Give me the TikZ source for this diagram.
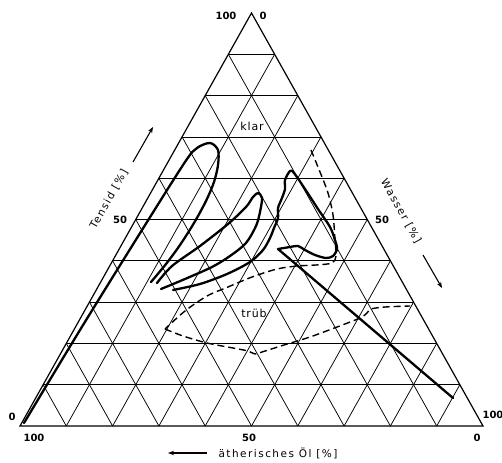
\documentclass[tikz,border=0pt]{standalone}
\usepackage{fontspec}
\setmainfont{DejaVu Sans}
\usetikzlibrary{calc,arrows.meta}
\begin{document}
\begin{tikzpicture}[x=1pt,y=-1pt,
  gridline/.style={line width=0.75pt,black},
  frame/.style={line width=1.2pt,black,line join=miter},
  boldcurve/.style={line width=2.3pt,black,line cap=round,line join=round},
  dashcurve/.style={line width=1.4pt,black,dash pattern=on 7pt off 4pt},
  num/.style={font=\fontsize{10}{12}\selectfont\bfseries,inner sep=0pt},
  lab/.style={font=\fontsize{10.5}{12}\selectfont\addfontfeature{LetterSpace=14},inner sep=0pt},
  word/.style={font=\fontsize{11}{13}\selectfont\addfontfeature{LetterSpace=8},inner sep=0pt},
  arr/.style={line width=1.1pt,-{Stealth[length=6pt,width=4.5pt]}}]
\useasboundingbox (0,0) rectangle (502,462);
\fill[white] (0,0) rectangle (502,462);
\coordinate (L) at (20,426);
\coordinate (R) at (483,426);
\coordinate (T) at (251.5,13);
% grid
\foreach \k in {1,...,9} {
  \draw[gridline] ($(L)!\k/10!(T)$) -- ($(R)!\k/10!(T)$);
  \draw[gridline] ($(L)!\k/10!(R)$) -- ($(T)!\k/10!(R)$);
  \draw[gridline] ($(L)!\k/10!(R)$) -- ($(L)!\k/10!(T)$);
}
\draw[frame] (L) -- (R) -- (T) -- cycle;
% tall loop
\draw[boldcurve] plot[smooth,tension=0.5] coordinates {(24,423) (80,330) (142,230) (185,162) (197,148) (210,143) (218,150) (218,165) (214,182) (206,201) (194,223) (180,245) (166,264) (151,282)};
% middle loop
\draw[boldcurve] plot[smooth,tension=0.5] coordinates {(157,283) (172,266) (200,246) (228,224) (246,207) (253,197) (258,193) (262,198) (260,212) (256,226) (246,243) (230,256) (212,267) (185,279) (161,289)};
% bottom curve, right loop and straight line
\draw[boldcurve] plot[smooth,tension=0.5] coordinates {(173,290) (200,284) (227,274) (250,262) (263,250) (270,238) (274,228) (278,218) (278,208) (282,198) (285,189) (285,180) (290,171) (294,173) (305,189) (318,209) (330,227) (335,240) (337,249) (333,256) (326,258) (315,255) (305,250) (298,246) (290,247) (278,249)} -- (453,398);
% dashed boundary
\draw[dashcurve] plot[smooth,tension=0.5] coordinates {(311,150) (320,172) (328,193) (333,215) (335,240) (336,256) (332,263) (316,265) (297,266) (277,269) (252,277) (228,287) (207,296) (185,311) (165,329)};
\draw[dashcurve] plot[smooth,tension=0.5] coordinates {(165,329) (183,336) (207,343) (233,348) (248,351) (255,354) (262,352) (284,345) (310,337) (337,327) (360,318) (367,313) (371,309) (385,307) (410,306)};
% numbers
\node[num] (n100t) at (226,16) {100};
\node[num] (n0t) at (263,16) {0};
\node[num] (n0l) at (12,417) {0};
\node[num] (n100l) at (34,438) {100};
\node[num] (n100r) at (493,415) {100};
\node[num] (n0r) at (477,438) {0};
\node[num] (n50b) at (249,438) {50};
\node[num] (n50l) at (120,220) {50};
\node[num] (n50r) at (382,220) {50};
% region labels
\node[word] (klar) at (252,126) {klar};
\node[word] (trueb) at (254,313) {trüb};
% axis labels
\node[lab,rotate=60.6] (tensid) at (109,199) {Tensid [\%]};
\node[lab,rotate=-60.6] (wasser) at (401,211) {Wasser [\%]};
\node[lab] (oel) at (278,453) {ätherisches Öl [\%]};
% axis arrows
\coordinate (ta1) at (133,162); \coordinate (ta2) at (153,127);
\draw[arr] (ta1) -- (ta2);
\coordinate (wa1) at (423,255); \coordinate (wa2) at (442,288);
\draw[arr] (wa1) -- (wa2);
\coordinate (oa1) at (207,453); \coordinate (oa2) at (168,453);
\draw[arr] (oa1) -- (oa2);
\end{tikzpicture}
\end{document}
